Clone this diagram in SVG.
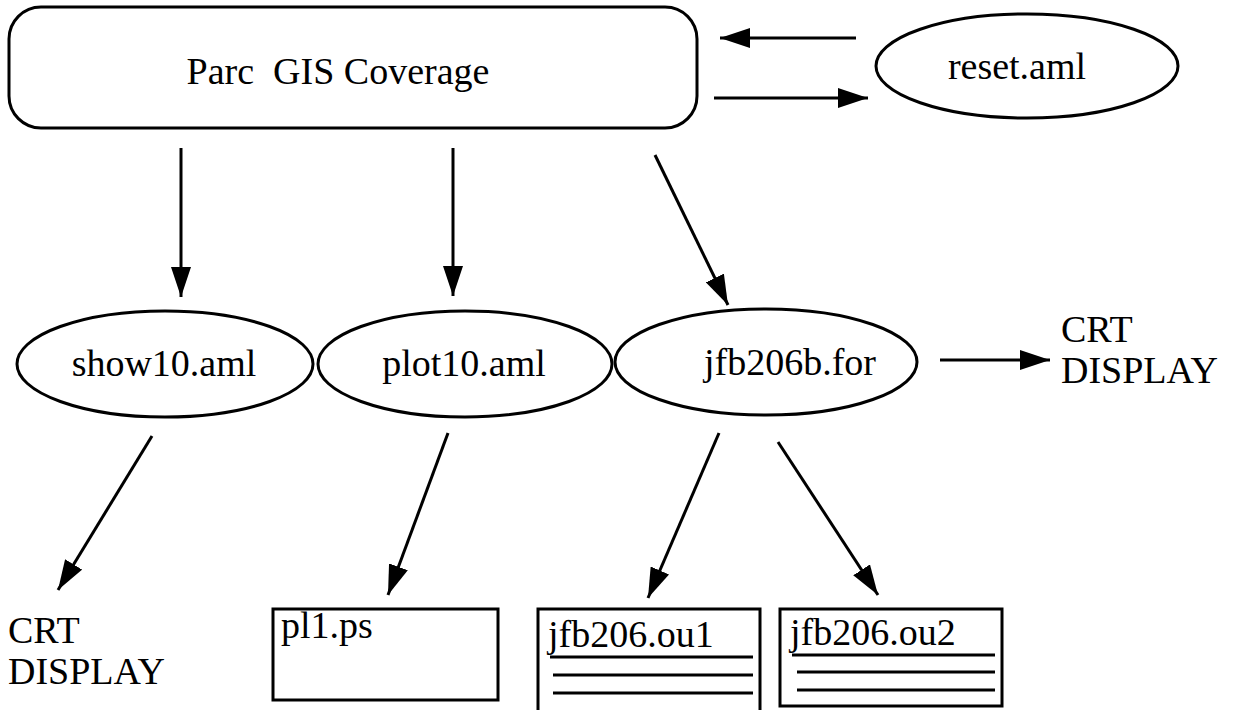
<svg xmlns="http://www.w3.org/2000/svg" width="1243" height="710" viewBox="0 0 1243 710">
<defs>
<marker id="ah" viewBox="0 0 30 20" refX="30" refY="10" markerWidth="30" markerHeight="20" markerUnits="userSpaceOnUse" orient="auto">
<path d="M0,0 L30,10 L0,20 z" fill="#000"/>
</marker>
<style>
.t{font-family:"Liberation Serif","Times New Roman",serif;font-size:38px;fill:#000}
.s{fill:#fff;stroke:#000;stroke-width:3}
.c line{stroke:#000;stroke-width:3;marker-end:url(#ah)}
.u{stroke:#000;stroke-width:3}
</style>
</defs>
<rect width="1243" height="710" fill="#fff"/>
<g id="parc">
<rect class="s" x="9" y="7" width="688" height="121" rx="32"/>
<text class="t" x="338" y="84" text-anchor="middle" font-size="37" xml:space="preserve">Parc  GIS Coverage</text>
</g>
<g id="reset">
<ellipse class="s" cx="1027" cy="66" rx="151" ry="52"/>
<text class="t" x="1017" y="79" text-anchor="middle">reset.aml</text>
</g>
<g id="show10">
<ellipse class="s" cx="165" cy="364" rx="148" ry="53"/>
<text class="t" x="164" y="376" text-anchor="middle">show10.aml</text>
</g>
<g id="plot10">
<ellipse class="s" cx="465" cy="364" rx="147" ry="53"/>
<text class="t" x="464" y="376" text-anchor="middle">plot10.aml</text>
</g>
<g id="jfb206b">
<ellipse class="s" cx="766" cy="362" rx="151" ry="53"/>
<text class="t" x="790" y="375" text-anchor="middle">jfb206b.for</text>
</g>
<g id="crt1">
<text class="t" x="1061" y="342" font-size="37">CRT</text>
<text class="t" x="1061" y="383" font-size="37">DISPLAY</text>
</g>
<g id="crt2">
<text class="t" x="8" y="643" font-size="37">CRT</text>
<text class="t" x="8" y="684" font-size="37">DISPLAY</text>
</g>
<g id="pl1">
<rect class="s" x="273" y="609" width="225" height="91"/>
<text class="t" x="281" y="638">pl1.ps</text>
</g>
<g id="ou1">
<rect class="s" x="538" y="609" width="222" height="106"/>
<text class="t" x="548" y="647">jfb206.ou1</text>
<line class="u" x1="550" y1="657" x2="753" y2="657"/>
<line class="u" x1="553" y1="675" x2="753" y2="675"/>
<line class="u" x1="553" y1="693" x2="753" y2="693"/>
</g>
<g id="ou2">
<rect class="s" x="780" y="609" width="222" height="97"/>
<text class="t" x="790" y="645">jfb206.ou2</text>
<line class="u" x1="792" y1="655" x2="995" y2="655"/>
<line class="u" x1="797" y1="672" x2="995" y2="672"/>
<line class="u" x1="797" y1="690" x2="995" y2="690"/>
</g>
<g class="c" id="connectors">
<line x1="856" y1="38" x2="720" y2="38"/>
<line x1="714" y1="98" x2="868" y2="98"/>
<line x1="181" y1="148" x2="181" y2="297"/>
<line x1="453" y1="148" x2="453" y2="296"/>
<line x1="655" y1="155" x2="728" y2="305"/>
<line x1="940" y1="360" x2="1050" y2="360"/>
<line x1="152" y1="436" x2="58" y2="590"/>
<line x1="448" y1="433" x2="388" y2="595"/>
<line x1="719" y1="433" x2="648" y2="598"/>
<line x1="778" y1="442" x2="878" y2="595"/>
</g>
</svg>
